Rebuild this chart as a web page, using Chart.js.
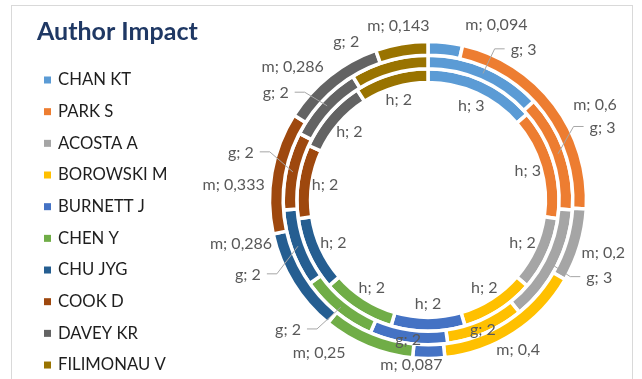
<!DOCTYPE html>
<html>
<head>
<meta charset="utf-8">
<script src="https://cdn.jsdelivr.net/npm/chart.js@4.4.1/dist/chart.umd.min.js"></script>
<style>
  html, body { margin: 0; padding: 0; background: #fff; }
  #wrap { width: 642px; height: 379px; }
</style>
</head>
<body>
<div id="wrap"><canvas id="impactChart" width="642" height="379"></canvas></div>
<script>
const authors = ["CHAN KT", "PARK S", "ACOSTA A", "BOROWSKI M", "BURNETT J", "CHEN Y", "CHU JYG", "COOK D", "DAVEY KR", "FILIMONAU V"];
const mValues = [0.094, 0.6, 0.2, 0.4, 0.087, 0.25, 0.286, 0.333, 0.286, 0.143];
const gValues = [3, 3, 3, 2, 2, 2, 2, 2, 2, 2];
const hValues = [3, 3, 2, 2, 2, 2, 2, 2, 2, 2];
const colors = ["#5B9BD5", "#ED7D31", "#A5A5A5", "#FFC000", "#4472C4", "#70AD47", "#255E91", "#9E480E", "#636363", "#997300"];

// label placement: [angle shift in degrees from slice middle, distance from centre]
const mLabelPos = [[15, 188], [7.5, 192], [0, 183], [2, 175], [6, 166], [13, 188], [18.5, 192], [-5.5, 195], [-7, 190], [0, 177]];
const gLabelPos = [[9, 178], [-3, 189], [-3, 188], [0.6, 141], [0.3, 141], [8, 191], [-3, 195], [2.4, 193], [-8, 186], [-11.7, 178]];
const gLeader = [true, true, true, false, false, true, true, true, true, false];
const hLabelRadius = 104;

const labelFont = "16px Lato";
const labelColor = "#595959";

const fmt = (v) => String(v).replace(".", ",");

const drawRing = (chart, dsIndex, prefix, values, pos, leaders) => {
  const ctx = chart.ctx;
  const meta = chart.getDatasetMeta(dsIndex);
  meta.data.forEach((arc, i) => {
    const p = arc.getProps(["x", "y", "startAngle", "endAngle", "innerRadius", "outerRadius"], true);
    const mid = (p.startAngle + p.endAngle) / 2;
    let a = mid;
    let r = hLabelRadius;
    if (pos) {
      a = mid + pos[i][0] * Math.PI / 180;
      r = pos[i][1];
    }
    const lx = p.x + r * Math.cos(a);
    const ly = p.y + r * Math.sin(a);
    const text = prefix + "; " + fmt(values[i]);
    const w = ctx.measureText(text).width;
    if (leaders && leaders[i]) {
      const rr = (p.innerRadius + p.outerRadius) / 2;
      const sx = p.x + rr * Math.cos(mid);
      const sy = p.y + rr * Math.sin(mid);
      const left = lx < p.x;
      const ex = left ? lx + w / 2 + 6 : lx - w / 2 - 6;
      const bx = left ? ex + 10 : ex - 10;
      ctx.strokeStyle = "#A6A6A6";
      ctx.lineWidth = 1;
      ctx.beginPath();
      ctx.moveTo(sx, sy);
      ctx.lineTo(bx, ly - 1);
      ctx.lineTo(ex, ly - 1);
      ctx.stroke();
    }
    ctx.fillStyle = labelColor;
    ctx.fillText(text, lx, ly);
  });
};

const decorations = {
  id: "decorations",
  beforeDraw(chart) {
    const ctx = chart.ctx;
    ctx.save();
    ctx.strokeStyle = "#D9D9D9";
    ctx.lineWidth = 1;
    ctx.strokeRect(11.5, 5.5, 621, 420);

    ctx.fillStyle = "#1F3864";
    ctx.font = "bold 25px Lato";
    ctx.textBaseline = "middle";
    ctx.textAlign = "left";
    ctx.fillText("Author Impact", 37, 32);

    ctx.font = "16.7px Lato";
    authors.forEach((name, i) => {
      const y = 80 + i * 31.67;
      ctx.fillStyle = colors[i];
      ctx.fillRect(44, y - 3.5, 7, 7);
      ctx.fillStyle = "#1E1E1E";
      ctx.fillText(name, 58, y);
    });
    ctx.restore();
  },
  afterDatasetsDraw(chart) {
    const ctx = chart.ctx;
    ctx.save();
    ctx.font = labelFont;
    ctx.textAlign = "center";
    ctx.textBaseline = "middle";
    drawRing(chart, 2, "h", hValues, null, null);
    drawRing(chart, 1, "g", gValues, gLabelPos, gLeader);
    drawRing(chart, 0, "m", mValues, mLabelPos, null);
    ctx.restore();
  }
};

new Chart(document.getElementById("impactChart"), {
  type: "doughnut",
  data: {
    labels: authors,
    datasets: [
      { label: "m", data: mValues, backgroundColor: colors },
      { label: "g", data: gValues, backgroundColor: colors },
      { label: "h", data: hValues, backgroundColor: colors },
    ],
  },
  options: {
    responsive: false,
    animation: false,
    devicePixelRatio: 1,
    radius: 158.5,
    cutout: "74.1%",
    borderColor: "#ffffff",
    borderWidth: 3.5,
    layout: { padding: { left: 260, right: 46, top: 21, bottom: 0 } },
    plugins: {
      legend: { display: false },
      title: { display: false },
      tooltip: { enabled: false },
    },
  },
  plugins: [decorations],
});
</script>
</body>
</html>
